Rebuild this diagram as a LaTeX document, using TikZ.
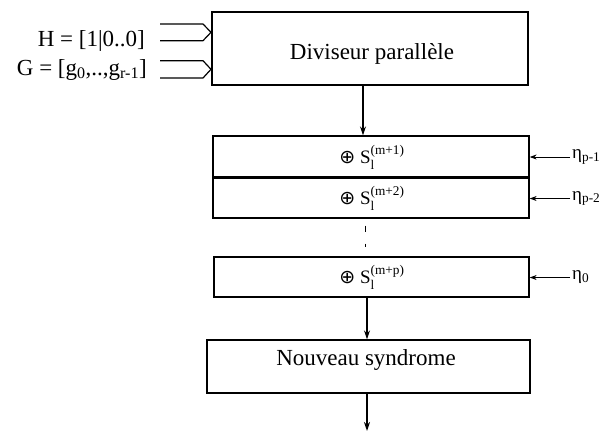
\documentclass[tikz,border=0pt]{standalone}
\usepackage{fontspec}
\usepackage{amsmath}
\setmainfont{Liberation Serif}
\newfontfamily\symfont{DejaVu Sans}
\usetikzlibrary{arrows.meta}
\newcommand{\xorsym}{{\symfont ⊕}}
\begin{document}
\begin{tikzpicture}[x=1pt,y=-1pt,
  box/.style={draw,line width=1.3pt,inner sep=0pt},
  flow/.style={line width=1.5pt,-{Stealth[length=9pt,width=6pt]}},
  side/.style={line width=1pt,-{Stealth[length=7pt,width=5pt]}},
  bus/.style={line width=1.2pt,line join=round},
  big/.style={font=\fontsize{23}{27}\selectfont,inner sep=0pt},
  mid/.style={font=\fontsize{19}{22}\selectfont,inner sep=0pt},
  eta/.style={font=\fontsize{19}{22}\selectfont,inner sep=2pt,anchor=west}
]
\useasboundingbox (0,0) rectangle (600,432);

% boxes
\node[box,minimum width=316pt,minimum height=73pt] (div) at (370,48.5) {};
\node[big,anchor=base] (divt) at (372,59) {Diviseur parallèle};

\node[box,minimum width=316pt,minimum height=41pt] (s1) at (371,156.5) {};
\node[box,minimum width=316pt,minimum height=40pt] (s2) at (371,198) {};
\node[box,minimum width=315pt,minimum height=40pt] (s3) at (371.5,277) {};
\node[mid,anchor=base] (s1t) at (372,163) {\xorsym{} $\text{S}_{\text{l}}^{\text{(m+1)}}$};
\node[mid,anchor=base] (s2t) at (372,204) {\xorsym{} $\text{S}_{\text{l}}^{\text{(m+2)}}$};
\node[mid,anchor=base] (s3t) at (372,283) {\xorsym{} $\text{S}_{\text{l}}^{\text{(m+p)}}$};

\node[box,minimum width=323pt,minimum height=53pt] (nv) at (368.5,366.5) {};
\node[big,anchor=base] (nvt) at (366,365) {Nouveau syndrome};

% input labels
\node[big,anchor=base east] (H) at (145,46.5) {H = [1|0..0]};
\node[big,anchor=base east] (G) at (147,75) {G = [g\textsubscript{0},..,g\textsubscript{r-1}]};

% bus inputs
\coordinate (h1) at (160,24);
\coordinate (h2) at (160,40.7);
\coordinate (g1) at (160,60.7);
\coordinate (g2) at (160,78);
\draw[bus] (h1) -- (203,24) -- (211,32.3) -- (203,40.7) -- (h2);
\draw[bus] (g1) -- (203,60.7) -- (211,69.3) -- (203,78) -- (g2);

% main flow
\draw[flow] ([xshift=-7pt]div.south) -- ([xshift=-8pt]s1.north);
\draw[line width=1pt,dash pattern=on 6pt off 12pt,shorten <=7pt,shorten >=9pt]
  ([xshift=-6pt]s2.south) -- ([xshift=-6.5pt]s3.north);
\draw[flow] ([xshift=-4.5pt]s3.south) -- ([xshift=-1.5pt]nv.north);
\coordinate (out) at (367,431);
\draw[flow] ([xshift=-1.5pt]nv.south) -- (out);

% side inputs
\node[eta] (e1) at (570,157) {η\textsubscript{p-1}};
\node[eta] (e2) at (570,198.5) {η\textsubscript{p-2}};
\node[eta] (e3) at (570,277.5) {η\textsubscript{0}};
\draw[side] (e1.west) -- (s1.east |- e1.west);
\draw[side] (e2.west) -- (s2.east |- e2.west);
\draw[side] (e3.west) -- (s3.east |- e3.west);
\end{tikzpicture}
\end{document}
